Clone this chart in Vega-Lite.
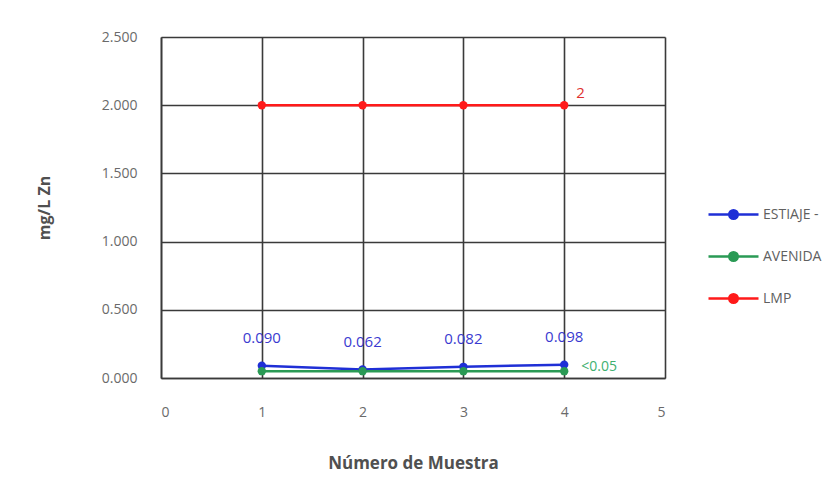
{
  "$schema": "https://vega.github.io/schema/vega-lite/v6.json",
  "width": 504,
  "height": 341,
  "autosize": {"type": "none"},
  "padding": {"left": 161, "top": 37, "right": 175, "bottom": 126},
  "background": "white",
  "config": {
    "font": "Open Sans",
    "view": {"stroke": null},
    "axis": {
      "grid": true,
      "gridColor": "#3a3a3a",
      "gridWidth": 1.6,
      "gridOpacity": 1,
      "domainColor": "#3a3a3a",
      "domainWidth": 1.6,
      "ticks": false,
      "labelColor": "#6a6a6a",
      "labelFontSize": 14,
      "titleColor": "#505050",
      "titleFontWeight": "bold"
    }
  },
  "data": {
    "values": [
      {"serie": "ESTIAJE -", "muestra": 1, "valor": 0.090, "etiqueta": "0.090"},
      {"serie": "ESTIAJE -", "muestra": 2, "valor": 0.062, "etiqueta": "0.062"},
      {"serie": "ESTIAJE -", "muestra": 3, "valor": 0.082, "etiqueta": "0.082"},
      {"serie": "ESTIAJE -", "muestra": 4, "valor": 0.098, "etiqueta": "0.098"},
      {"serie": "AVENIDA", "muestra": 1, "valor": 0.05, "etiqueta": null},
      {"serie": "AVENIDA", "muestra": 2, "valor": 0.05, "etiqueta": null},
      {"serie": "AVENIDA", "muestra": 3, "valor": 0.05, "etiqueta": null},
      {"serie": "AVENIDA", "muestra": 4, "valor": 0.05, "etiqueta": "<0.05"},
      {"serie": "LMP", "muestra": 1, "valor": 2, "etiqueta": null},
      {"serie": "LMP", "muestra": 2, "valor": 2, "etiqueta": null},
      {"serie": "LMP", "muestra": 3, "valor": 2, "etiqueta": null},
      {"serie": "LMP", "muestra": 4, "valor": 2, "etiqueta": "2"}
    ]
  },
  "encoding": {
    "x": {
      "field": "muestra",
      "type": "quantitative",
      "scale": {"domain": [0, 5], "nice": false, "zero": true},
      "axis": {
        "values": [0, 1, 2, 3, 4, 5],
        "format": "d",
        "labelPadding": 27,
        "title": "Número de Muestra",
        "titleFontSize": 17,
        "titlePadding": 36
      }
    },
    "y": {
      "field": "valor",
      "type": "quantitative",
      "scale": {"domain": [0, 2.5], "nice": false},
      "axis": {
        "values": [0, 0.5, 1, 1.5, 2, 2.5],
        "format": ".3f",
        "labelPadding": 24,
        "title": "mg/L Zn",
        "titleFontSize": 16,
        "titlePadding": 49
      }
    }
  },
  "layer": [
    {
      "mark": {"type": "line", "strokeWidth": 2.5, "point": {"size": 70, "filled": true}},
      "encoding": {
        "color": {
          "field": "serie",
          "type": "nominal",
          "sort": ["ESTIAJE -", "AVENIDA", "LMP"],
          "scale": {
            "domain": ["ESTIAJE -", "AVENIDA", "LMP"],
            "range": ["#1f2fd6", "#2a9a55", "#ff1a1a"]
          },
          "legend": {
            "title": null,
            "orient": "none",
            "legendX": 546,
            "legendY": 151,
            "symbolType": "M -1 0 L 1 0 M 0.17 0 A 0.17 0.17 0 1 1 -0.17 0 A 0.17 0.17 0 1 1 0.17 0",
            "symbolSize": 2500,
            "symbolStrokeWidth": 2.5,
            "symbolFillColor": null,
            "labelFontSize": 14,
            "labelColor": "#606060",
            "labelOffset": 3,
            "rowPadding": 6,
            "labelLimit": 200
          }
        },
        "order": {"field": "muestra"}
      }
    },
    {
      "transform": [{"filter": "datum.serie === 'ESTIAJE -'"}],
      "mark": {"type": "text", "dy": -28, "fontSize": 15, "color": "#3a3ad0", "baseline": "middle"},
      "encoding": {"text": {"field": "etiqueta"}}
    },
    {
      "transform": [{"filter": "datum.serie === 'AVENIDA' && datum.etiqueta != null"}],
      "mark": {"type": "text", "dx": 17, "dy": -4, "align": "left", "fontSize": 14, "color": "#40b070", "baseline": "middle"},
      "encoding": {"text": {"field": "etiqueta"}}
    },
    {
      "transform": [{"filter": "datum.serie === 'LMP' && datum.etiqueta != null"}],
      "mark": {"type": "text", "dx": 12, "dy": -12, "align": "left", "fontSize": 15, "color": "#e03030", "baseline": "middle"},
      "encoding": {"text": {"field": "etiqueta"}}
    }
  ]
}
